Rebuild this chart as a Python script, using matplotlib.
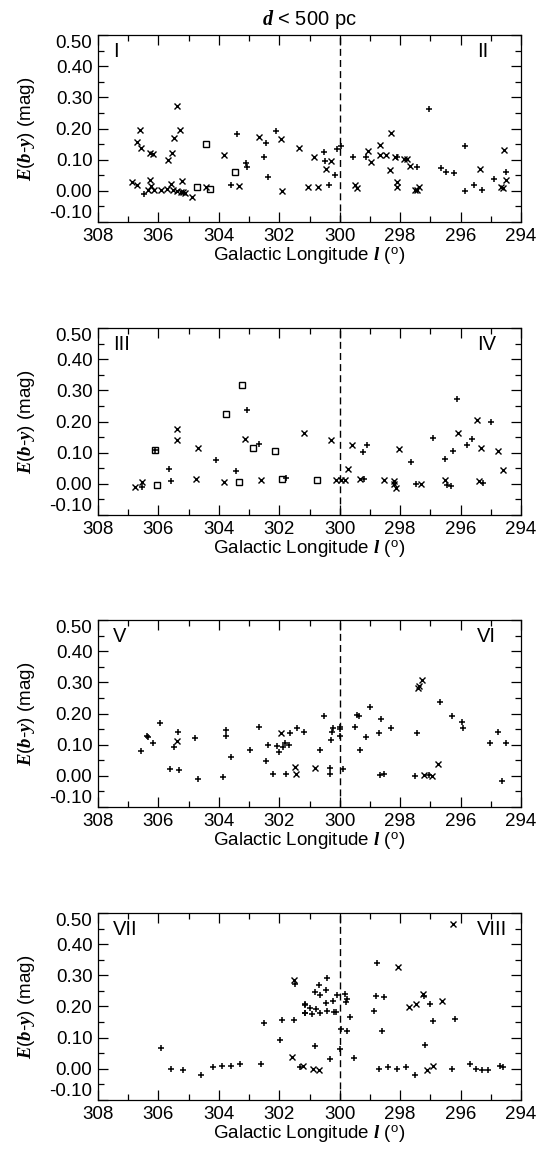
import matplotlib

matplotlib.use("Agg")
import matplotlib.pyplot as plt
from matplotlib.ticker import MultipleLocator

plt.rcParams["font.family"] = ["Liberation Sans", "DejaVu Sans"]
plt.rcParams["mathtext.fontset"] = "custom"
plt.rcParams["mathtext.rm"] = "Liberation Sans"
plt.rcParams["mathtext.it"] = "Liberation Serif:italic:bold"

# galactic longitude l (deg) and E(b-y) (mag)
# panel I / II
p1_cross_l = [305.38, 306.61, 305.29, 305.48, 306.72, 306.58, 306.28, 306.19, 305.54, 305.68,
              303.82, 302.67, 301.95, 301.36, 303.34, 301.91, 301.05, 306.89, 306.72, 306.28,
              306.25, 306.34, 306.14, 305.90, 305.73, 305.57, 305.51, 305.40, 305.26, 305.18,
              305.21, 305.11, 304.88, 304.43, 300.86, 300.28, 300.46, 300.72, 299.07, 298.96,
              298.68, 298.66, 298.46, 298.30, 298.18, 297.88, 297.78, 297.66, 298.32, 299.51,
              299.43, 298.10, 298.11, 297.52, 297.45, 297.36, 295.35, 294.57, 294.50, 294.66,
              294.60]
p1_cross_e = [0.273, 0.195, 0.195, 0.168, 0.157, 0.139, 0.120, 0.117, 0.120, 0.098,
              0.116, 0.173, 0.165, 0.139, 0.014, 0.000, 0.011, 0.027, 0.019, 0.034,
              0.016, 0.003, 0.002, 0.002, 0.005, 0.021, 0.002, 0.000, -0.005, -0.005,
              0.030, -0.007, -0.019, 0.011, 0.109, 0.096, 0.070, 0.013, 0.128, 0.091,
              0.147, 0.115, 0.115, 0.185, 0.107, 0.103, 0.103, 0.080, 0.066, 0.019,
              0.009, 0.027, 0.011, 0.002, 0.002, 0.013, 0.070, 0.132, 0.034, 0.011,
              0.008]
p1_plus_l = [303.40, 302.45, 302.10, 303.09, 303.06, 302.51, 302.37, 303.61, 306.47, 300.53,
             300.50, 300.17, 300.09, 299.96, 300.37, 299.56, 299.14, 298.10, 297.45, 297.06,
             296.64, 296.48, 296.22, 295.85, 295.84, 295.57, 295.30, 294.88, 294.50]
p1_plus_e = [0.181, 0.152, 0.193, 0.088, 0.077, 0.107, 0.043, 0.019, -0.009, 0.123,
             0.096, 0.050, 0.134, 0.145, 0.019, 0.107, 0.107, 0.109, 0.075, 0.264,
             0.072, 0.059, 0.056, 0.145, 0.000, 0.019, 0.002, 0.037, 0.059]
p1_square_l = [304.44, 303.47, 304.72, 304.28]
p1_square_e = [0.150, 0.061, 0.013, 0.005]

# panel III / IV
p2_cross_l = [305.40, 305.40, 303.12, 301.18, 304.69, 304.74, 303.83, 302.62, 306.78, 306.56,
              300.28, 300.11, 299.95, 299.84, 299.73, 299.58, 299.34, 298.04, 298.52, 298.21,
              298.19, 298.15, 297.30, 296.09, 296.50, 295.45, 295.34, 294.75, 294.61, 295.40]
p2_cross_e = [0.176, 0.140, 0.144, 0.163, 0.115, 0.016, 0.006, 0.012, -0.010, 0.005,
              0.142, 0.013, 0.013, 0.012, 0.046, 0.124, 0.014, 0.112, 0.012, 0.009,
              -0.002, -0.013, 0.000, 0.163, 0.012, 0.206, 0.115, 0.105, 0.044, 0.009]
p2_plus_l = [303.07, 302.68, 306.10, 304.08, 305.65, 303.42, 305.57, 301.77, 306.56, 299.10,
             299.23, 299.18, 297.63, 297.47, 296.92, 296.11, 296.26, 296.53, 296.46, 296.31,
             295.78, 295.62, 294.99, 295.27]
p2_plus_e = [0.238, 0.128, 0.110, 0.076, 0.049, 0.041, 0.009, 0.019, -0.010, 0.126,
             0.103, 0.014, 0.070, -0.002, 0.147, 0.272, 0.105, 0.080, -0.005, -0.007,
             0.126, 0.144, 0.198, 0.003]
p2_square_l = [303.25, 303.76, 302.87, 302.14, 306.12, 303.34, 301.90, 306.04, 300.75]
p2_square_e = [0.318, 0.225, 0.115, 0.105, 0.110, 0.006, 0.017, -0.005, 0.012]

# panel V / VI
p3_cross_l = [305.37, 301.95, 301.49, 301.46, 297.38, 297.27, 297.40, 300.83, 296.75, 297.20,
              296.95]
p3_cross_e = [0.112, 0.137, 0.027, 0.007, 0.289, 0.307, 0.282, 0.025, 0.037, 0.002,
              0.000]
p3_plus_l = [305.95, 306.39, 306.35, 306.17, 306.58, 305.35, 305.49, 304.79, 305.62, 305.32,
             303.75, 303.78, 303.60, 302.67, 302.98, 302.37, 302.43, 301.63, 301.43, 301.19,
             302.06, 301.88, 301.80, 301.68, 302.01, 302.21, 301.77, 304.70, 303.85, 300.53,
             300.22, 300.26, 299.98, 300.00, 300.28, 300.00, 300.64, 299.43, 299.36, 299.51,
             299.01, 298.65, 299.14, 298.71, 299.34, 298.30, 297.44, 296.68, 296.29, 295.95,
             295.93, 294.77, 295.02, 294.50, 300.31, 300.31, 299.89, 298.68, 298.55, 297.50,
             297.05, 294.62]
p3_plus_e = [0.169, 0.127, 0.123, 0.105, 0.080, 0.142, 0.091, 0.121, 0.021, 0.018,
             0.147, 0.128, 0.059, 0.157, 0.084, 0.100, 0.048, 0.137, 0.155, 0.141,
             0.096, 0.094, 0.104, 0.100, 0.075, 0.005, 0.007, -0.010, -0.005, 0.193,
             0.153, 0.142, 0.157, 0.150, 0.115, 0.128, 0.082, 0.195, 0.193, 0.157,
             0.222, 0.182, 0.123, 0.136, 0.082, 0.152, 0.136, 0.236, 0.191, 0.173,
             0.155, 0.141, 0.104, 0.104, 0.024, 0.007, 0.021, 0.002, 0.005, 0.000,
             0.002, -0.015]
p3_square_l = []
p3_square_e = []

# panel VII / VIII
p4_cross_l = [301.52, 301.58, 296.26, 298.06, 297.23, 297.71, 297.47, 296.61, 301.20, 300.90,
              300.70, 297.10, 296.90]
p4_cross_e = [0.284, 0.037, 0.464, 0.327, 0.239, 0.197, 0.207, 0.219, 0.010, 0.000,
              -0.005, -0.005, 0.010]
p4_plus_l = [305.92, 301.49, 301.14, 301.14, 302.52, 301.91, 301.52, 301.99, 298.76, 300.41,
             300.69, 300.83, 300.44, 300.64, 300.08, 299.82, 299.75, 299.78, 300.22, 300.47,
             301.16, 300.99, 300.77, 301.16, 300.92, 300.64, 300.42, 300.19, 300.11, 299.67,
             299.95, 299.75, 298.81, 298.55, 298.88, 298.60, 297.20, 297.00, 296.92, 296.20,
             300.81, 300.00, 297.17, 300.31, 299.54, 305.60, 305.20, 304.60, 304.20, 303.90,
             303.60, 303.30, 302.60, 301.30, 298.70, 298.40, 298.10, 297.80, 297.50, 296.30,
             295.70, 295.50, 295.30, 295.10, 294.70, 294.60]
p4_plus_e = [0.067, 0.271, 0.207, 0.180, 0.147, 0.158, 0.158, 0.091, 0.340, 0.291,
             0.268, 0.248, 0.252, 0.236, 0.238, 0.241, 0.225, 0.214, 0.219, 0.212,
             0.206, 0.196, 0.193, 0.180, 0.177, 0.180, 0.185, 0.182, 0.182, 0.166,
             0.128, 0.120, 0.233, 0.230, 0.185, 0.121, 0.235, 0.207, 0.153, 0.161,
             0.072, 0.064, 0.075, 0.032, 0.034, 0.000, -0.005, -0.020, 0.005, 0.010,
             0.010, 0.015, 0.015, 0.005, 0.000, 0.005, 0.000, 0.005, -0.020, 0.000,
             0.015, 0.000, -0.005, -0.005, 0.010, 0.005]
p4_square_l = []
p4_square_e = []

panel_tags = [("I", "II"), ("III", "IV"), ("V", "VI"), ("VII", "VIII")]
y_ticks = [-0.1, 0.0, 0.1, 0.2, 0.3, 0.4, 0.5]
x_ticks = [308, 306, 304, 302, 300, 298, 296, 294]

W, H = 541, 1157
AX_LEFT, AX_WIDTH = 98, 423
AX_TOPS = [35, 328, 620, 913]
AX_HEIGHT = 187
FS = 13.5


def draw_panel(ax, cross, plus, square, tags):
    ax.axvline(300, color="black", lw=1.0, ls=(0, (5, 3)))
    ax.plot(cross[0], cross[1], "x", color="black", ms=3.9, mew=1.0, ls="none")
    ax.plot(plus[0], plus[1], "+", color="black", ms=4.4, mew=1.1, ls="none")
    ax.plot(square[0], square[1], "s", mfc="none", mec="black", ms=4.4, mew=1.0, ls="none")

    ax.set_xlim(308, 294)
    ax.set_ylim(-0.1, 0.5)
    ax.set_xticks(x_ticks)
    ax.set_xticklabels([str(t) for t in x_ticks])
    ax.xaxis.set_minor_locator(MultipleLocator(1))
    ax.set_yticks(y_ticks)
    ax.set_yticklabels([f"{t:.2f}" for t in y_ticks])
    ax.yaxis.set_minor_locator(MultipleLocator(0.05))
    ax.tick_params(which="both", direction="in", top=True, right=True, width=0.9,
                   labelsize=FS, pad=4)
    ax.tick_params(which="major", length=7)
    ax.tick_params(which="minor", length=4)
    ylabels = ax.get_yticklabels()
    ylabels[0].set_va("bottom")
    ylabels[-1].set_va("top")
    for s in ax.spines.values():
        s.set_linewidth(0.9)

    ax.set_xlabel(r"Galactic Longitude $\mathit{l}$ ($^{\rm o}$)", fontsize=FS, labelpad=1)
    ax.set_ylabel(r"$\mathit{E(b}$-$\mathit{y)}$ (mag)", fontsize=FS, labelpad=9)
    ax.text(0.035, 0.96, tags[0], transform=ax.transAxes, fontsize=FS + 1, ha="left", va="top")
    ax.text(0.896, 0.96, tags[1], transform=ax.transAxes, fontsize=FS + 1, ha="left", va="top")


def main():
    fig = plt.figure(figsize=(W / 100, H / 100), dpi=100)
    panels = [
        ((p1_cross_l, p1_cross_e), (p1_plus_l, p1_plus_e), (p1_square_l, p1_square_e)),
        ((p2_cross_l, p2_cross_e), (p2_plus_l, p2_plus_e), (p2_square_l, p2_square_e)),
        ((p3_cross_l, p3_cross_e), (p3_plus_l, p3_plus_e), (p3_square_l, p3_square_e)),
        ((p4_cross_l, p4_cross_e), (p4_plus_l, p4_plus_e), (p4_square_l, p4_square_e)),
    ]
    axes = []
    for top, (cross, plus, square), tags in zip(AX_TOPS, panels, panel_tags):
        rect = [AX_LEFT / W, 1 - (top + AX_HEIGHT) / H, AX_WIDTH / W, AX_HEIGHT / H]
        ax = fig.add_axes(rect)
        draw_panel(ax, cross, plus, square, tags)
        axes.append(ax)
    axes[0].set_title(r"$\mathit{d}$ < 500 pc", fontsize=FS + 1, pad=7)
    fig.savefig("out.png", dpi=100)
    plt.close(fig)


if __name__ == "__main__":
    main()
